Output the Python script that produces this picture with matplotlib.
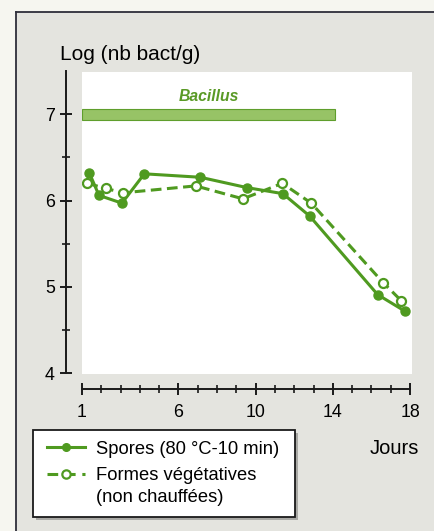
import numpy as np
import matplotlib
matplotlib.use('Agg')
import matplotlib.pyplot as plt
from matplotlib.lines import Line2D
from matplotlib.patches import Rectangle
from matplotlib.ticker import FixedLocator

plt.rcParams['font.family'] = ['Liberation Sans', 'DejaVu Sans']

# data (jours, log nb bact/g)
spores_x = [1.38, 1.88, 3.07, 4.23, 7.13, 9.55, 11.41, 12.8, 16.32, 17.72]
spores_y = [6.32, 6.06, 5.97, 6.31, 6.27, 6.15, 6.08, 5.82, 4.91, 4.72]
veg_x = [1.28, 2.24, 3.14, 6.89, 9.34, 11.38, 12.88, 16.6, 17.54]
veg_y = [6.20, 6.14, 6.09, 6.17, 6.02, 6.20, 5.97, 5.05, 4.84]
bacillus_start, bacillus_end, bacillus_level = 1, 14.1, 7.0
x_ticks = [1, 6, 10, 14, 18]
y_ticks = [4, 5, 6, 7]

green = '#4f9a20'
W, H = 435, 531


def px(x, y):
    # pixel position -> figure fraction
    return x / W, 1 - y / H


fig = plt.figure(figsize=(4.35, 5.31), dpi=100, facecolor='#f6f6f0')

# grey panel with dark border on top and left
fig.patches.append(Rectangle(px(16, 531), (W - 16) / W, (531 - 12) / H,
                             transform=fig.transFigure, facecolor='#e4e4df',
                             edgecolor='none', zorder=-2))
fig.add_artist(Line2D([16 / W, 16 / W], [1 - 531 / H, 1 - 12 / H],
                      transform=fig.transFigure, color='#2e2e3a', lw=1.3,
                      zorder=-1))
fig.add_artist(Line2D([16 / W, 1], [1 - 12 / H, 1 - 12 / H],
                      transform=fig.transFigure, color='#2e2e3a', lw=1.3,
                      zorder=-1))

ax = fig.add_axes([82 / W, 1 - 374 / H, 330 / W, 302 / H])
ax.set_zorder(0)
ax.set_facecolor('white')
ax.set_xlim(1, 18.1)
ax.set_ylim(3.99, 7.49)

# Bacillus bar
ax.barh(bacillus_level, bacillus_end - bacillus_start, left=bacillus_start,
        height=0.125, color='#97c366', edgecolor='#5f9e2c', linewidth=0.8)
ax.text((bacillus_start + bacillus_end) / 2 + 0.03, 7.21, 'Bacillus',
        color='#5a9a26', fontsize=11.3, fontweight='bold', fontstyle='italic',
        ha='center', va='center')

ax.plot(spores_x, spores_y, color=green, lw=2.2, marker='o', ms=6.5,
        mfc=green, mec=green, zorder=3)
ax.plot(veg_x, veg_y, color=green, lw=2.2, dashes=(3.5, 1.8), marker='o',
        ms=6.5, mfc='white', mec=green, mew=1.6, zorder=3)

for s in ['top', 'right']:
    ax.spines[s].set_visible(False)
ax.spines['left'].set_position(('outward', 11.5))
ax.spines['bottom'].set_position(('outward', 10.8))
ax.spines['left'].set_bounds(4, 7.5)
ax.spines['bottom'].set_bounds(1, 18)
for s in ['left', 'bottom']:
    ax.spines[s].set_linewidth(1.4)
    ax.spines[s].set_color('#1a1a1a')

ax.set_xticks(x_ticks)
ax.xaxis.set_minor_locator(FixedLocator(np.arange(1, 19)))
ax.set_yticks(y_ticks)
ax.yaxis.set_minor_locator(FixedLocator([4.5, 5.5, 6.5, 7.5]))
ax.tick_params(which='major', direction='inout', length=8, width=1.4,
               labelsize=12.8, color='#1a1a1a')
ax.tick_params(which='minor', direction='inout', length=5.5, width=1.2,
               color='#1a1a1a')
ax.tick_params(axis='y', which='major', pad=4)
ax.tick_params(axis='x', which='major', pad=7)

fig.text(*px(60, 54), 'Log (nb bact/g)', fontsize=15, ha='left', va='center')
fig.text(*px(370, 449), 'Jours', fontsize=14.5, ha='left', va='center')

# legend box with soft shadow
lx0, ly0, lx1, ly1 = 33, 430, 295, 517
fig.patches.append(Rectangle(px(lx0 + 3, ly1 + 3), (lx1 - lx0) / W,
                             (ly1 - ly0) / H, transform=fig.transFigure,
                             facecolor='#a9a9a5', edgecolor='none', zorder=1))
fig.patches.append(Rectangle(px(lx0, ly1), (lx1 - lx0) / W, (ly1 - ly0) / H,
                             transform=fig.transFigure, facecolor='white',
                             edgecolor='#1a1a1a', lw=1.3, zorder=2))
fig.add_artist(Line2D([47 / W, 85 / W], [1 - 447 / H] * 2,
                      transform=fig.transFigure, color=green, lw=2.2,
                      zorder=3))
fig.add_artist(Line2D([66 / W], [1 - 447 / H], transform=fig.transFigure,
                      marker='o', ms=5.5, color=green, zorder=4))
fig.add_artist(Line2D([47 / W, 85 / W], [1 - 474 / H] * 2,
                      transform=fig.transFigure, color=green, lw=2.2,
                      dashes=(3.5, 2.2), zorder=3))
fig.add_artist(Line2D([66 / W], [1 - 474 / H], transform=fig.transFigure,
                      marker='o', ms=6, mfc='white', mec=green, mew=1.6,
                      color=green, zorder=4))
fig.text(*px(96, 449), 'Spores (80 °C-10 min)', fontsize=13.2, ha='left',
         va='center', zorder=5)
fig.text(*px(96, 476), 'Formes végétatives', fontsize=13.2, ha='left',
         va='center', zorder=5)
fig.text(*px(96, 498), '(non chauffées)', fontsize=13.2, ha='left',
         va='center', zorder=5)

fig.savefig('out.png', dpi=100, facecolor=fig.get_facecolor())
